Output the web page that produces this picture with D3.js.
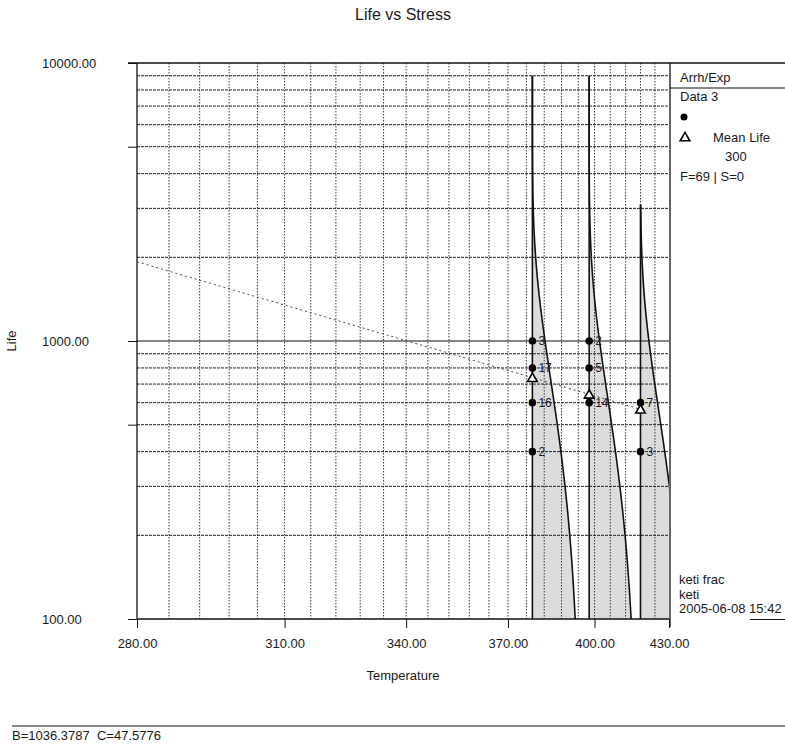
<!DOCTYPE html>
<html>
<head>
<meta charset="utf-8">
<script src="https://cdn.jsdelivr.net/npm/d3@7"></script>
<style>
  html, body { margin: 0; padding: 0; background: #fff; }
  svg text { font-family: "Liberation Sans", Arial, sans-serif; fill: #1a1a1a; white-space: pre; }
</style>
</head>
<body>
<svg id="chart" width="785" height="746"></svg>
<script>
// Accelerated life test: Arrhenius / Exponential life-stress plot

// stress levels (temperature, K) and the mean life at each level
const stressTemps = [378, 398, 418];
const meanLife = [738, 643, 568];
// upper life value where each pdf outline starts
const pdfTop = [9000, 9000, 3100];

// failure groups: temperature, time, number of units
const pointTemp = [378, 378, 378, 378, 398, 398, 398, 418, 418];
const pointLife = [1000, 800, 600, 400, 1000, 800, 600, 600, 400];
const pointCount = [3, 17, 16, 2, 2, 5, 14, 7, 3];

// Arrhenius parameters
const paramB = 1036.3787;
const paramC = 47.5776;

// axis ticks
const xTicks = [280, 310, 340, 370, 400, 430];
const yTicks = [100, 1000, 10000];

// text blocks
const legendLines = ["Arrh/Exp", "Data 3"];
const infoLines = ["keti frac", "keti", "2005-06-08 15:42"];

const svg = d3.select("#chart");
const L = 137, R = 669, T = 63, Bt = 619;

// reciprocal temperature axis (Arrhenius paper)
const xr = d3.scaleLinear().domain([1 / 280, 1 / 430]).range([L, R]);
const x = t => xr(1 / t);
const y = d3.scaleLog().domain([100, 10000]).range([Bt, T]);

svg.append("rect").attr("width", 785).attr("height", 746).attr("fill", "#fff");

svg.append("defs").append("clipPath").attr("id", "plotClip")
  .append("rect").attr("x", L).attr("y", T).attr("width", R - L).attr("height", Bt - T);

// pdf shading (exponential density drawn sideways at each stress)
const pdfWidth = 49;
const pdfG = svg.append("g").attr("clip-path", "url(#plotClip)");
stressTemps.forEach((s, i) => {
  const ts = d3.range(0, 1.0001, 0.01).map(f => Math.pow(10, 2 + f * Math.log10(pdfTop[i] / 100)));
  const area = d3.area()
    .y(t => y(t))
    .x0(() => x(s))
    .x1(t => x(s) + pdfWidth * Math.exp(-t / meanLife[i]));
  pdfG.append("path").datum(ts).attr("d", area)
    .attr("fill", "#dcdcdc").attr("stroke", "none");
});

// grid
const gridG = svg.append("g");
const vGrid = d3.range(286, 430, 6);
gridG.selectAll("line.v").data(vGrid).join("line")
  .attr("x1", d => x(d)).attr("x2", d => x(d))
  .attr("y1", T).attr("y2", Bt)
  .attr("stroke", "#3a3a3a").attr("stroke-width", 1)
  .attr("stroke-dasharray", "1.5,1.5");
const hGrid = [200, 300, 400, 500, 600, 700, 800, 900, 2000, 3000, 4000, 5000, 6000, 7000, 8000, 9000];
gridG.selectAll("line.h").data(hGrid).join("line")
  .attr("x1", L).attr("x2", R)
  .attr("y1", d => y(d)).attr("y2", d => y(d))
  .attr("stroke", "#222").attr("stroke-width", 1)
  .attr("stroke-dasharray", "3,1");
gridG.append("line")
  .attr("x1", L).attr("x2", R).attr("y1", y(1000)).attr("y2", y(1000))
  .attr("stroke", "#111").attr("stroke-width", 1.2);

// axes
const xAxis = d3.axisBottom(xr)
  .tickValues(xTicks.map(t => 1 / t))
  .tickFormat(d => (1 / d).toFixed(2))
  .tickSize(9).tickSizeOuter(0);
const gx = svg.append("g").attr("transform", `translate(0,${Bt})`).call(xAxis);
gx.select(".domain").remove();
gx.selectAll(".tick line").attr("stroke", "#111");
gx.selectAll(".tick text").attr("font-size", 13).attr("y", 20)
  .style("font-family", "Liberation Sans, Arial, sans-serif");

const yAxis = d3.axisLeft(y).tickValues([100, 500, 1000, 5000, 10000])
  .tickFormat(d => yTicks.includes(d) ? d3.format(".2f")(d) : "")
  .tickSize(9).tickSizeOuter(0);
const gy = svg.append("g").attr("transform", `translate(${L},0)`).call(yAxis);
gy.select(".domain").remove();
gy.selectAll(".tick line").attr("stroke", "#111");
gy.selectAll(".tick text").attr("font-size", 13).attr("text-anchor", "start")
  .attr("x", 42 - L).attr("dy", "0.35em")
  .style("font-family", "Liberation Sans, Arial, sans-serif");

// frame
const frame = svg.append("g").attr("stroke", "#111").attr("stroke-width", 1.3);
frame.append("line").attr("x1", 128).attr("x2", 785).attr("y1", T).attr("y2", T);
frame.append("line").attr("x1", L).attr("x2", L).attr("y1", T).attr("y2", Bt);
frame.append("line").attr("x1", L).attr("x2", R).attr("y1", Bt).attr("y2", Bt);
frame.append("line").attr("x1", R + 1).attr("x2", R + 1).attr("y1", T).attr("y2", Bt + 8);
frame.append("line").attr("x1", R + 1).attr("x2", 785).attr("y1", 88).attr("y2", 88).attr("stroke-width", 1);
frame.append("line").attr("x1", 750).attr("x2", 785).attr("y1", 619.5).attr("y2", 619.5).attr("stroke-width", 1);

// life-stress line
const lineTemps = d3.range(280, 418.01, 2);
svg.append("path").datum(lineTemps)
  .attr("d", d3.line().x(t => x(t)).y(t => y(paramC * Math.exp(paramB / t))))
  .attr("fill", "none").attr("stroke", "#444").attr("stroke-width", 1)
  .attr("stroke-dasharray", "2,3");

// pdf outlines
const pdfLines = svg.append("g").attr("clip-path", "url(#plotClip)");
stressTemps.forEach((s, i) => {
  const ts = d3.range(0, 1.0001, 0.01).map(f => Math.pow(10, 2 + f * Math.log10(pdfTop[i] / 100)));
  pdfLines.append("line")
    .attr("x1", x(s)).attr("x2", x(s)).attr("y1", y(pdfTop[i])).attr("y2", Bt)
    .attr("stroke", "#111").attr("stroke-width", 1.6);
  pdfLines.append("path").datum(ts)
    .attr("d", d3.line().y(t => y(t)).x(t => x(s) + pdfWidth * Math.exp(-t / meanLife[i])))
    .attr("fill", "none").attr("stroke", "#111").attr("stroke-width", 1.6);
});

// failure points
const pts = pointTemp.map((t, i) => ({ t, life: pointLife[i], n: pointCount[i] }));
svg.append("g").selectAll("circle").data(pts).join("circle")
  .attr("cx", d => x(d.t)).attr("cy", d => y(d.life)).attr("r", 3.8)
  .attr("fill", "#000");
svg.append("g").selectAll("text").data(pts).join("text")
  .attr("x", d => x(d.t) + 6).attr("y", d => y(d.life)).attr("dy", "0.35em")
  .attr("font-size", 12).text(d => d.n);

// mean life markers
const tri = d3.symbol().type(d3.symbolTriangle).size(40);
svg.append("g").selectAll("path").data(stressTemps).join("path")
  .attr("transform", (d, i) => `translate(${x(d)},${y(meanLife[i]) + 1})`)
  .attr("d", tri).attr("fill", "#fff").attr("stroke", "#000").attr("stroke-width", 1.6);

// legend
const lg = svg.append("g").attr("font-size", 13);
lg.append("text").attr("x", 680).attr("y", 82).text(legendLines[0]);
lg.append("text").attr("x", 680).attr("y", 101).text(legendLines[1]);
lg.append("circle").attr("cx", 684).attr("cy", 117).attr("r", 3.5).attr("fill", "#000");
lg.append("path").attr("transform", "translate(685,138)").attr("d", tri)
  .attr("fill", "#fff").attr("stroke", "#000").attr("stroke-width", 1.6);
lg.append("text").attr("x", 713).attr("y", 141.5).text("Mean Life");
lg.append("text").attr("x", 725).attr("y", 161).text("300");
lg.append("text").attr("x", 680).attr("y", 180.5).text(`F=${d3.sum(pointCount)} | S=0`);
infoLines.forEach((s, i) => {
  lg.append("text").attr("x", 679).attr("y", 584 + i * 14.5).text(s);
});

// titles
svg.append("text").attr("x", (L + R) / 2).attr("y", 20).attr("text-anchor", "middle")
  .attr("font-size", 16).text("Life vs Stress");
svg.append("text").attr("x", (L + R) / 2).attr("y", 680).attr("text-anchor", "middle")
  .attr("font-size", 13).text("Temperature");
svg.append("text").attr("transform", "translate(16,341) rotate(-90)").attr("text-anchor", "middle")
  .attr("font-size", 13).text("Life");

// footer with model parameters
svg.append("line").attr("x1", 12).attr("x2", 785).attr("y1", 726).attr("y2", 726)
  .attr("stroke", "#111").attr("stroke-width", 1.2);
svg.append("text").attr("x", 12).attr("y", 740).attr("font-size", 13)
  .text(`B=${paramB.toFixed(4)}  C=${paramC.toFixed(4)}`);
</script>
</body>
</html>
